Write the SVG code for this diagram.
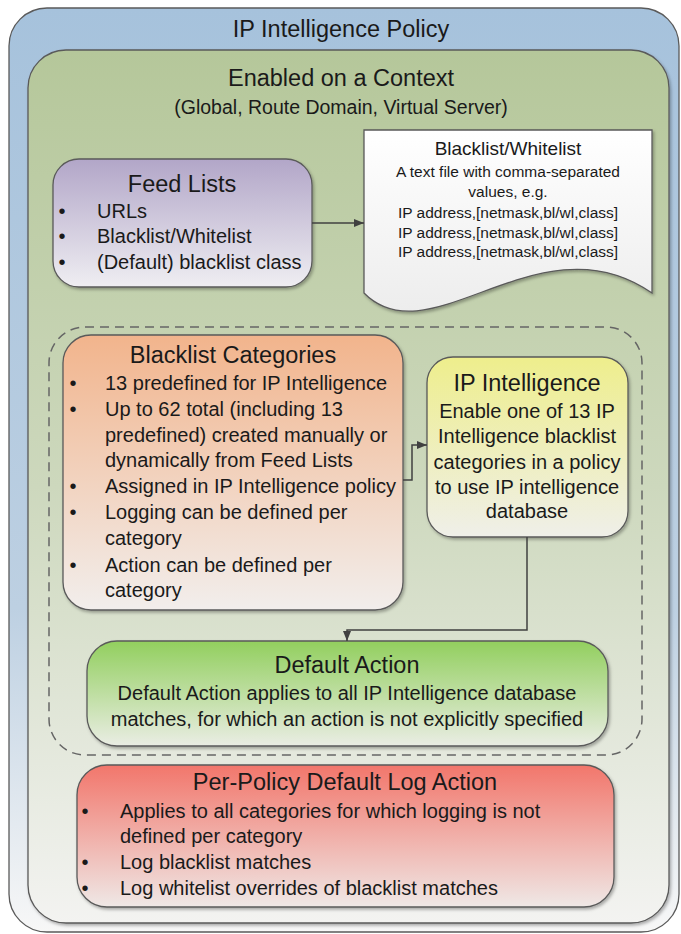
<svg xmlns="http://www.w3.org/2000/svg" width="681" height="934" viewBox="0 0 681 934">
<defs>
<linearGradient id="gOuter" x1="0" y1="0" x2="0" y2="1">
<stop offset="0" stop-color="#a6c2dc"/><stop offset="0.65" stop-color="#bdd0e2"/><stop offset="1" stop-color="#f7f7f7"/>
</linearGradient>
<linearGradient id="gCtx" x1="0" y1="0" x2="0" y2="1">
<stop offset="0" stop-color="#b5c79a"/><stop offset="0.5" stop-color="#cdd8bd"/><stop offset="1" stop-color="#f3f3f1"/>
</linearGradient>
<linearGradient id="gFeed" x1="0" y1="0" x2="0" y2="1">
<stop offset="0" stop-color="#b2a6c8"/><stop offset="1" stop-color="#efeef2"/>
</linearGradient>
<linearGradient id="gDoc" x1="0" y1="0" x2="0" y2="1">
<stop offset="0" stop-color="#ffffff"/><stop offset="1" stop-color="#ededed"/>
</linearGradient>
<linearGradient id="gBC" x1="0" y1="0" x2="0" y2="1">
<stop offset="0" stop-color="#f2b48c"/><stop offset="1" stop-color="#f2eeec"/>
</linearGradient>
<linearGradient id="gIP" x1="0" y1="0" x2="0" y2="1">
<stop offset="0" stop-color="#eeee8c"/><stop offset="1" stop-color="#efefe9"/>
</linearGradient>
<linearGradient id="gDA" x1="0" y1="0" x2="0" y2="1">
<stop offset="0" stop-color="#92cf5e"/><stop offset="1" stop-color="#eaede4"/>
</linearGradient>
<linearGradient id="gPP" x1="0" y1="0" x2="0" y2="1">
<stop offset="0" stop-color="#f2766b"/><stop offset="1" stop-color="#efe8e6"/>
</linearGradient>
<filter id="shadow" x="-5%" y="-5%" width="115%" height="115%">
<feDropShadow dx="1.5" dy="2" stdDeviation="1.5" flood-color="#000" flood-opacity="0.3"/>
</filter>
<marker id="arrow" viewBox="0 0 10 8" refX="10" refY="4" markerWidth="10" markerHeight="8" markerUnits="userSpaceOnUse" orient="auto">
<path d="M0,0 L10,4 L0,8 z" fill="#404040"/>
</marker>
<style>
text{font-family:"Liberation Sans",Arial,sans-serif;fill:#1a1a1a;}
.title{font-size:23.5px;text-anchor:middle;}
.sub{font-size:19.5px;text-anchor:middle;}
.body{font-size:20px;}
.ctr{text-anchor:middle;}
.bul{font-size:20px;text-anchor:middle;}
.doc{font-size:15.5px;text-anchor:middle;}
.box{stroke:#5a5a5a;stroke-width:1.3;}
.sh{filter:url(#shadow);}
.conn{fill:none;stroke:#404040;stroke-width:1.5;}
</style>
</defs>

<g id="policy">
<rect x="9" y="8" width="670" height="924" rx="38" fill="url(#gOuter)" class="box"/>
<text x="341" y="37" class="title">IP Intelligence Policy</text>
</g>

<g id="context">
<rect x="28" y="50" width="641" height="873" rx="38" fill="url(#gCtx)" class="box sh"/>
<text x="341" y="86" class="title">Enabled on a Context</text>
<text x="341" y="114" class="sub">(Global, Route Domain, Virtual Server)</text>
</g>

<g id="group-dashed">
<rect x="49" y="327" width="593" height="428" rx="36" fill="none" stroke="#656565" stroke-width="1.5" stroke-dasharray="9 6"/>
</g>

<g id="feed-lists">
<rect x="53" y="159" width="259" height="128" rx="26" fill="url(#gFeed)" class="box sh"/>
<text x="182" y="192" class="title">Feed Lists</text>
<text x="62" y="218" class="bul">•</text><text x="97" y="218" class="body">URLs</text>
<text x="62" y="243" class="bul">•</text><text x="97" y="243" class="body">Blacklist/Whitelist</text>
<text x="62" y="269" class="bul">•</text><text x="97" y="269" class="body">(Default) blacklist class</text>
</g>

<g id="blacklist-file">
<path d="M364,130 H652 V293 C540,215 430,360 364,293 Z" fill="url(#gDoc)" class="box sh"/>
<text x="508" y="155" class="doc" style="font-size:19px">Blacklist/Whitelist</text>
<text x="508" y="177" class="doc">A text file with comma-separated</text>
<text x="508" y="197" class="doc">values, e.g.</text>
<text x="508" y="218" class="doc">IP address,[netmask,bl/wl,class]</text>
<text x="508" y="238" class="doc">IP address,[netmask,bl/wl,class]</text>
<text x="508" y="257" class="doc">IP address,[netmask,bl/wl,class]</text>
</g>

<g id="blacklist-categories">
<rect x="63" y="335" width="340" height="275" rx="28" fill="url(#gBC)" class="box sh"/>
<text x="233" y="363" class="title">Blacklist Categories</text>
<text x="73" y="390" class="bul">•</text><text x="105" y="390" class="body">13 predefined for IP Intelligence</text>
<text x="73" y="416" class="bul">•</text><text x="105" y="416" class="body">Up to 62 total (including 13</text>
<text x="105" y="442" class="body">predefined) created manually or</text>
<text x="105" y="467" class="body">dynamically from Feed Lists</text>
<text x="73" y="493" class="bul">•</text><text x="105" y="493" class="body">Assigned in IP Intelligence policy</text>
<text x="73" y="519" class="bul">•</text><text x="105" y="519" class="body">Logging can be defined per</text>
<text x="105" y="545" class="body">category</text>
<text x="73" y="572" class="bul">•</text><text x="105" y="572" class="body">Action can be defined per</text>
<text x="105" y="597" class="body">category</text>
</g>

<g id="ip-intelligence">
<rect x="427" y="357" width="201" height="180" rx="26" fill="url(#gIP)" class="box sh"/>
<text x="527" y="391" class="title">IP Intelligence</text>
<text x="527" y="418" class="body ctr">Enable one of 13 IP</text>
<text x="527" y="443" class="body ctr">Intelligence blacklist</text>
<text x="527" y="469" class="body ctr">categories in a policy</text>
<text x="527" y="494" class="body ctr">to use IP intelligence</text>
<text x="527" y="518" class="body ctr">database</text>
</g>

<g id="default-action">
<rect x="87" y="641" width="521" height="105" rx="30" fill="url(#gDA)" class="box sh"/>
<text x="347" y="673" class="title">Default Action</text>
<text x="347" y="700" class="body ctr">Default Action applies to all IP Intelligence database</text>
<text x="347" y="726" class="body ctr">matches, for which an action is not explicitly specified</text>
</g>

<g id="per-policy-log">
<rect x="77" y="765" width="537" height="142" rx="30" fill="url(#gPP)" class="box sh"/>
<text x="345" y="790" class="title">Per-Policy Default Log Action</text>
<text x="85" y="818" class="bul">•</text><text x="120" y="818" class="body">Applies to all categories for which logging is not</text>
<text x="120" y="843" class="body">defined per category</text>
<text x="85" y="869" class="bul">•</text><text x="120" y="869" class="body">Log blacklist matches</text>
<text x="85" y="895" class="bul">•</text><text x="120" y="895" class="body">Log whitelist overrides of blacklist matches</text>
</g>

<g id="connectors">
<path d="M312,223 H364" class="conn" marker-end="url(#arrow)"/>
<path d="M403,480 H412 V445 H427" class="conn" marker-end="url(#arrow)"/>
<path d="M527,537 V630 H347 V641" class="conn" marker-end="url(#arrow)"/>
</g>
</svg>
